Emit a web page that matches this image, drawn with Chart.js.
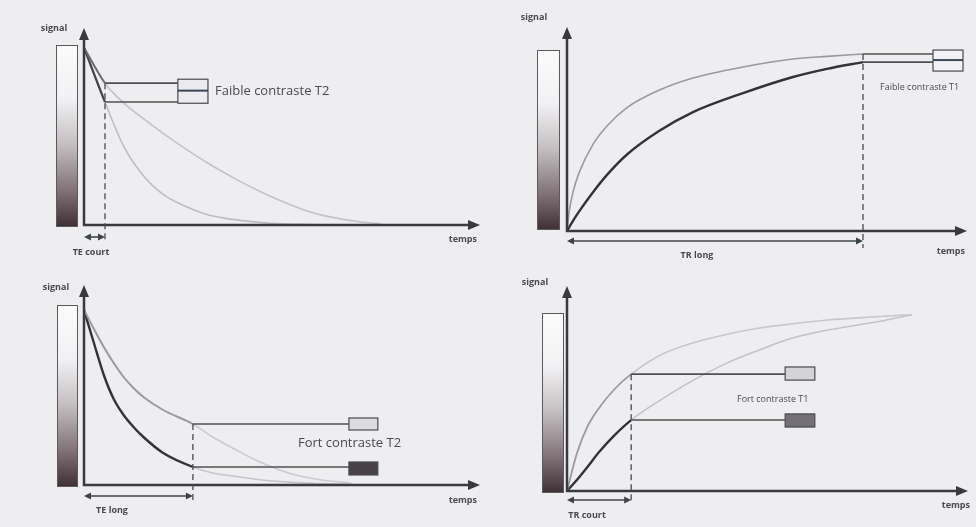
<!DOCTYPE html>
<html>
<head>
<meta charset="utf-8">
<script src="https://cdn.jsdelivr.net/npm/chart.js@4.4.1/dist/chart.umd.min.js"></script>
<style>
  html, body { margin: 0; padding: 0; background: #eeedf0; }
  #wrap { position: relative; width: 976px; height: 527px; overflow: hidden; }
  canvas { position: absolute; }
</style>
</head>
<body>
<div id="wrap">
  <canvas id="c1" width="488" height="262" style="left:0;top:0"></canvas>
  <canvas id="c2" width="488" height="262" style="left:488px;top:0"></canvas>
  <canvas id="c3" width="488" height="265" style="left:0;top:262px"></canvas>
  <canvas id="c4" width="488" height="265" style="left:488px;top:262px"></canvas>
</div>
<script>
// time = % of the time axis, signal = % of the signal axis

// T2 decay, TE court
const teCourt = 5.3;
const teCourtTimes = [0, 5.3, 10, 15, 20, 25, 30, 35, 40, 45, 50, 55, 60, 65, 70, 75];
const teCourtLongT2 = [90, 72, 62, 54, 46.5, 39.5, 33, 27, 21.5, 16.5, 12, 8, 5, 3, 1.5, 0.5];
const teCourtShortT2 = [90, 62.4, 40, 25, 15.5, 10, 6, 3.6, 2.2, 1.2, 0.6, 0.3, 0.1, 0, 0, 0];

// T1 recovery, TR long
const trLong = 74;
const trLongTimes = [0, 0.5, 1.5, 3, 6.5, 10, 15, 23, 31.5, 44, 56.5, 65, 74];
const trLongShortT1 = [0, 9, 19, 28.5, 42.5, 51.5, 60.5, 69, 75, 80.4, 84.3, 85.6, 86.8];
const trLongLongT1 = [0, 1.7, 5, 9.5, 19, 27.5, 37.5, 49, 58.3, 67.6, 75.5, 79.5, 82.8];

// T2 decay, TE long
const teLong = 27.5;
const teLongTimes = [0, 2.5, 5, 7.5, 10, 12.5, 15, 20, 27.5, 32.5, 37.5, 45, 52.5, 60, 67.5];
const teLongLongT2 = [87.5, 78, 69, 61, 54, 48.5, 44, 37.5, 30.5, 24, 18.5, 11, 5.5, 2.5, 1];
const teLongShortT2 = [87.5, 71, 55, 43, 35, 29, 24, 16, 9, 6, 4.5, 2.5, 1.3, 0.7, 0.3];

// T1 recovery, TR court
const trCourt = 16;
const trCourtTimes = [0, 2.5, 5, 8, 12, 16, 23, 31, 40, 48, 56, 65, 77, 86];
const trCourtShortT1 = [0, 18.5, 31, 40.5, 50, 57, 66, 72, 76.5, 79.5, 81.5, 83.4, 85, 86];
const trCourtLongT1 = [0, 5.5, 11.5, 19, 27.5, 34.6, 44, 53.5, 62.5, 68.8, 74.5, 78.5, 82.4, 86];

const INK = '#3a3a3c';
const TEXT = '#4a4a4c';
const FONT = '"Open Sans", "Noto Sans", sans-serif';

function head(ctx, x, y, dir, len, half) {
  ctx.beginPath();
  if (dir === 'up') { ctx.moveTo(x, y); ctx.lineTo(x - half, y + len); ctx.lineTo(x + half, y + len); }
  if (dir === 'right') { ctx.moveTo(x, y); ctx.lineTo(x - len, y - half); ctx.lineTo(x - len, y + half); }
  if (dir === 'left') { ctx.moveTo(x, y); ctx.lineTo(x + len, y - half); ctx.lineTo(x + len, y + half); }
  ctx.closePath();
  ctx.fill();
}

function decor(cfg) {
  return {
    id: 'decor',
    beforeDatasetsDraw(chart) {
      const ctx = chart.ctx;
      const b = cfg.bar;
      ctx.save();
      const g = ctx.createLinearGradient(0, b.y0, 0, b.y1);
      g.addColorStop(0, '#fbfbfc');
      g.addColorStop(0.3, '#f1f0f2');
      g.addColorStop(0.55, '#c4bec1');
      g.addColorStop(0.8, '#807276');
      g.addColorStop(1, '#3d2f33');
      ctx.fillStyle = g;
      ctx.fillRect(b.x0, b.y0, b.x1 - b.x0, b.y1 - b.y0);
      ctx.strokeStyle = '#5a5a5c';
      ctx.lineWidth = 1;
      ctx.strokeRect(b.x0 + 0.5, b.y0 + 0.5, b.x1 - b.x0 - 1, b.y1 - b.y0 - 1);
      ctx.restore();
    },
    afterDatasetsDraw(chart) {
      const ctx = chart.ctx;
      const xs = chart.scales.x, ys = chart.scales.y;
      const X = v => xs.getPixelForValue(v), Y = v => ys.getPixelForValue(v);
      ctx.save();

      // axes with arrows
      ctx.strokeStyle = INK; ctx.fillStyle = INK; ctx.lineWidth = 2.5;
      ctx.beginPath();
      ctx.moveTo(X(0) - 1, Y(0)); ctx.lineTo(X(100) - 8, Y(0));
      ctx.moveTo(X(0), Y(0) + 1); ctx.lineTo(X(0), Y(100) + 8);
      ctx.stroke();
      head(ctx, X(100), Y(0), 'right', 12, 5);
      head(ctx, X(0), Y(100), 'up', 12, 5);

      // dashed marker at TE / TR
      const ci = cfg.times.indexOf(cfg.cut);
      const topVal = Math.max(...cfg.curves.map(c => c.vals[ci]));
      ctx.strokeStyle = '#4a4a4c'; ctx.lineWidth = 1.3;
      ctx.setLineDash([6, 4]);
      ctx.beginPath();
      ctx.moveTo(X(cfg.cut), Y(topVal));
      ctx.lineTo(X(cfg.cut), cfg.dashBottom);
      ctx.stroke();
      ctx.setLineDash([]);

      // horizontal leaders to the grey boxes
      ctx.strokeStyle = '#505052'; ctx.lineWidth = 1.6;
      cfg.curves.forEach(c => {
        ctx.beginPath();
        ctx.moveTo(X(cfg.cut), Y(c.vals[ci]));
        ctx.lineTo(X(cfg.boxT0), Y(c.vals[ci]));
        ctx.stroke();
      });
      ctx.lineWidth = 1.2; ctx.strokeStyle = '#4a4a4c';
      cfg.boxes.forEach(bx => {
        const x0 = X(cfg.boxT0), x1 = X(cfg.boxT1), y0 = Y(bx.s1), y1 = Y(bx.s0);
        ctx.fillStyle = bx.fill;
        ctx.fillRect(x0, y0, x1 - x0, y1 - y0);
        ctx.strokeRect(x0, y0, x1 - x0, y1 - y0);
        if (bx.mid !== undefined) {
          ctx.strokeStyle = '#3d4658'; ctx.lineWidth = 2;
          ctx.beginPath(); ctx.moveTo(x0, Y(bx.mid)); ctx.lineTo(x1, Y(bx.mid)); ctx.stroke();
          ctx.lineWidth = 1.2; ctx.strokeStyle = '#4a4a4c';
        }
      });

      // TE / TR interval arrow under the time axis
      const iv = cfg.interval;
      ctx.strokeStyle = '#3e4446'; ctx.fillStyle = '#3e4446'; ctx.lineWidth = 1.6;
      ctx.beginPath(); ctx.moveTo(X(0) + 4, iv.y); ctx.lineTo(X(cfg.cut) - 4, iv.y); ctx.stroke();
      head(ctx, X(0), iv.y, 'left', 7, 3.5);
      head(ctx, X(cfg.cut), iv.y, 'right', 7, 3.5);

      // labels
      ctx.fillStyle = TEXT;
      ctx.textBaseline = 'middle';
      ctx.font = 'bold 9px ' + FONT;
      ctx.textAlign = 'center';
      ctx.fillText('signal', cfg.signal.x, cfg.signal.y);
      ctx.fillText(iv.text, iv.tx, iv.ty);
      ctx.textAlign = 'right';
      ctx.fillText('temps', cfg.temps.x, cfg.temps.y);
      ctx.textAlign = 'left';
      ctx.font = cfg.label.size + 'px ' + FONT;
      ctx.fillText(cfg.label.text, cfg.label.x, cfg.label.y);
      ctx.restore();
    }
  };
}

function panel(id, cfg) {
  new Chart(document.getElementById(id), {
    type: 'line',
    data: {
      datasets: cfg.curves.map(c => ({
        data: cfg.times.map((t, i) => ({ x: t, y: c.vals[i] })),
        borderColor: c.before,
        borderWidth: c.width,
        pointRadius: 0,
        cubicInterpolationMode: 'monotone',
        segment: {
          borderColor: s => (s.p1.parsed.x <= cfg.cut + 1e-6 ? c.before : c.after),
          borderWidth: s => (s.p1.parsed.x <= cfg.cut + 1e-6 ? c.width : 1.6)
        }
      }))
    },
    options: {
      responsive: false,
      animation: false,
      devicePixelRatio: 1,
      layout: { padding: cfg.pad },
      scales: {
        x: { type: 'linear', min: 0, max: 100, display: false },
        y: { min: 0, max: 100, display: false }
      },
      plugins: { legend: { display: false }, tooltip: { enabled: false } }
    },
    plugins: [decor(cfg)]
  });
}

panel('c1', {
  times: teCourtTimes, cut: teCourt,
  curves: [
    { vals: teCourtLongT2, before: '#6a6a6e', after: '#c3c3c8', width: 2 },
    { vals: teCourtShortT2, before: '#45454a', after: '#bdbdc3', width: 2.2 }
  ],
  pad: { left: 84, right: 8, top: 28, bottom: 37 },
  bar: { x0: 56, x1: 78, y0: 45, y1: 227 },
  boxT0: 23.7, boxT1: 31.3,
  boxes: [{ s0: 61.8, s1: 74, fill: '#ebebf0', mid: 68.2 }],
  dashBottom: 240,
  interval: { y: 237, text: 'TE court', tx: 91, ty: 252 },
  signal: { x: 54, y: 28 }, temps: { x: 477, y: 239 },
  label: { text: 'Faible contraste T2', x: 215, y: 91, size: 13 }
});

panel('c2', {
  times: trLongTimes, cut: trLong,
  curves: [
    { vals: trLongShortT1, before: '#9a9a9e', after: '#9a9a9e', width: 1.6 },
    { vals: trLongLongT1, before: '#333336', after: '#333336', width: 2.4 }
  ],
  pad: { left: 79, right: 9, top: 27, bottom: 31 },
  bar: { x0: 49, x1: 72, y0: 50, y1: 230 },
  boxT0: 91.5, boxT1: 99,
  boxes: [{ s0: 78.4, s1: 88.7, fill: '#f2f2f4', mid: 83.8 }],
  dashBottom: 248,
  interval: { y: 241, text: 'TR long', tx: 209, ty: 255 },
  signal: { x: 46, y: 17 }, temps: { x: 477, y: 251 },
  label: { text: 'Faible contraste T1', x: 392, y: 87, size: 9 }
});

panel('c3', {
  times: teLongTimes, cut: teLong,
  curves: [
    { vals: teLongLongT2, before: '#9a9a9e', after: '#cbcbcf', width: 2 },
    { vals: teLongShortT2, before: '#333336', after: '#c6c6ca', width: 2.4 }
  ],
  pad: { left: 84, right: 8, top: 23, bottom: 42 },
  bar: { x0: 57, x1: 78, y0: 43, y1: 225 },
  boxT0: 66.9, boxT1: 74.2,
  boxes: [
    { s0: 27.5, s1: 33.5, fill: '#dcdbe0' },
    { s0: 5, s1: 11.5, fill: '#4a4048' }
  ],
  dashBottom: 240,
  interval: { y: 234, text: 'TE long', tx: 112, ty: 248 },
  signal: { x: 56, y: 25 }, temps: { x: 477, y: 238 },
  label: { text: 'Fort contraste T2', x: 298, y: 181, size: 13 }
});

panel('c4', {
  times: trCourtTimes, cut: trCourt,
  curves: [
    { vals: trCourtShortT1, before: '#9a9a9e', after: '#c8c8cc', width: 1.8 },
    { vals: trCourtLongT1, before: '#333336', after: '#c3c3c7', width: 2.4 }
  ],
  pad: { left: 79, right: 8, top: 24, bottom: 36 },
  bar: { x0: 54, x1: 76, y0: 51, y1: 231 },
  boxT0: 54.4, boxT1: 61.8,
  boxes: [
    { s0: 54.1, s1: 60.5, fill: '#d4d4d8' },
    { s0: 31.2, s1: 37.6, fill: '#727076' }
  ],
  dashBottom: 242,
  interval: { y: 238, text: 'TR court', tx: 99, ty: 253 },
  signal: { x: 47, y: 20 }, temps: { x: 482, y: 243 },
  label: { text: 'Fort contraste T1', x: 249, y: 137, size: 9 }
});
</script>
</body>
</html>
